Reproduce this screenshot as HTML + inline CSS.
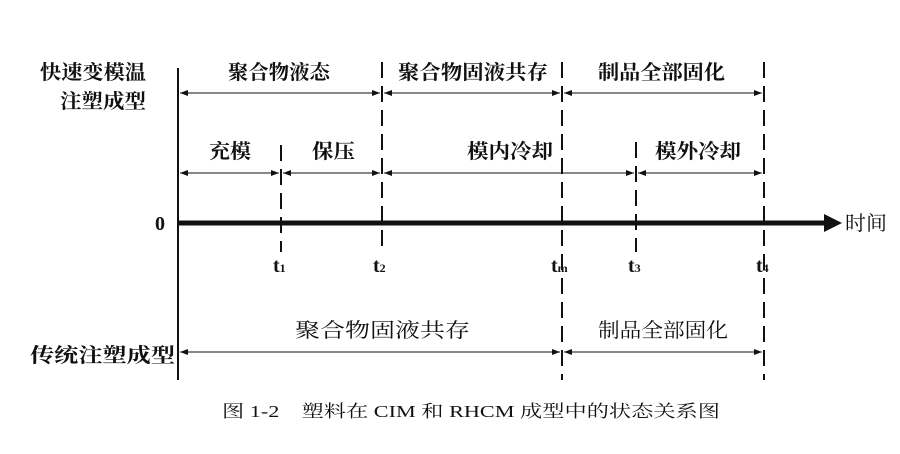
<!DOCTYPE html>
<html><head><meta charset="utf-8"><style>
body{margin:0;background:#fff;}
svg text{font-family:"Liberation Serif","Noto Serif CJK SC",serif;fill:#111;}
.cj{font-family:"Noto Sans CJK SC",sans-serif;font-weight:bold;font-size:20px;}
</style></head><body>
<svg width="900" height="449" viewBox="0 0 900 449">
<defs>
<marker id="a" markerWidth="8" markerHeight="6" refX="8" refY="3" orient="auto-start-reverse" markerUnits="userSpaceOnUse"><path d="M0,0L8,3L0,6z" fill="#111"/></marker>
</defs>
<g stroke="#111" stroke-width="2">
<line x1="178" y1="68" x2="178" y2="380"/>
<line x1="178" y1="223" x2="826" y2="223" stroke-width="5"/>
</g>
<path d="M824,214L842,223L824,232z" fill="#111"/>
<g stroke="#111" stroke-width="2" stroke-dasharray="16,8">
<line x1="281" y1="145" x2="281" y2="252"/>
<line x1="382" y1="62" x2="382" y2="252"/>
<line x1="562" y1="62" x2="562" y2="380"/>
<line x1="636" y1="142" x2="636" y2="252"/>
<line x1="764" y1="62" x2="764" y2="380"/>
</g>
<g stroke="#111" stroke-width="1" marker-start="url(#a)" marker-end="url(#a)">
<line x1="180" y1="93" x2="380" y2="93"/>
<line x1="384" y1="93" x2="560" y2="93"/>
<line x1="564" y1="93" x2="762" y2="93"/>
<line x1="180" y1="173" x2="279" y2="173"/>
<line x1="283" y1="173" x2="380" y2="173"/>
<line x1="384" y1="173" x2="634" y2="173"/>
<line x1="638" y1="173" x2="762" y2="173"/>
<line x1="180" y1="352" x2="560" y2="352"/>
<line x1="564" y1="352" x2="762" y2="352"/>
</g>
<g class="cj">
<text x="40" y="79" textLength="106" lengthAdjust="spacingAndGlyphs">快速变模温</text>
<text x="60" y="108" textLength="86" lengthAdjust="spacingAndGlyphs">注塑成型</text>
<text x="228" y="79" textLength="102" lengthAdjust="spacingAndGlyphs">聚合物液态</text>
<text x="398" y="79" textLength="150" lengthAdjust="spacingAndGlyphs">聚合物固液共存</text>
<text x="598" y="79" textLength="127" lengthAdjust="spacingAndGlyphs">制品全部固化</text>
<text x="209" y="158" textLength="42" lengthAdjust="spacingAndGlyphs">充模</text>
<text x="312" y="158" textLength="43" lengthAdjust="spacingAndGlyphs">保压</text>
<text x="467" y="158" textLength="86" lengthAdjust="spacingAndGlyphs">模内冷却</text>
<text x="655" y="158" textLength="86" lengthAdjust="spacingAndGlyphs">模外冷却</text>
<text x="845" y="230" style="font-weight:normal" textLength="42" lengthAdjust="spacingAndGlyphs">时间</text>
<text x="30" y="362" textLength="145" lengthAdjust="spacingAndGlyphs">传统注塑成型</text>
<text x="295" y="337" style="font-weight:normal" textLength="175" lengthAdjust="spacingAndGlyphs">聚合物固液共存</text>
<text x="598" y="337" style="font-weight:normal" textLength="130" lengthAdjust="spacingAndGlyphs">制品全部固化</text>
</g>
<g font-weight="bold" font-size="20">
<text x="155" y="230">0</text>
<text x="273" y="272">t<tspan font-size="12">1</tspan></text>
<text x="373" y="272">t<tspan font-size="12">2</tspan></text>
<text x="551" y="272">t<tspan font-size="12">m</tspan></text>
<text x="628" y="272">t<tspan font-size="12">3</tspan></text>
<text x="756" y="272">t<tspan font-size="12">4</tspan></text>
</g>
<text x="222" y="417" font-size="17" textLength="498" lengthAdjust="spacingAndGlyphs">图 1-2　塑料在 CIM 和 RHCM 成型中的状态关系图</text>
</svg>
</body></html>
